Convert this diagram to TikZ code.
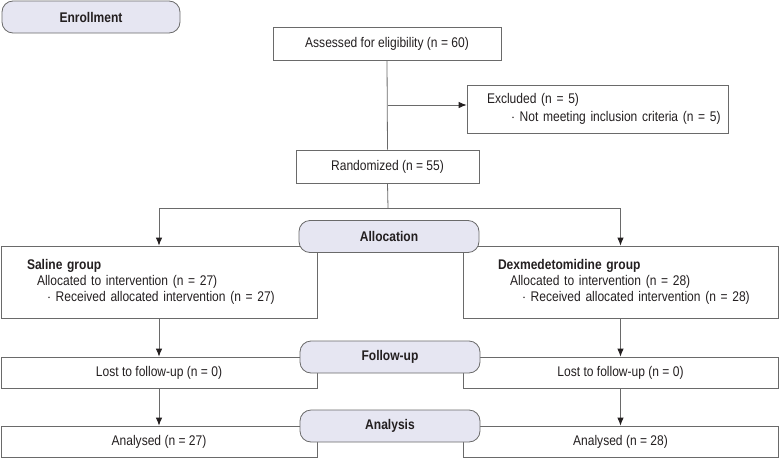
\documentclass[tikz,border=0pt]{standalone}
\usepackage{fontspec}
\setmainfont{Liberation Sans}[FakeStretch=0.86]
\usetikzlibrary{positioning}
\usetikzlibrary{arrows.meta}

\definecolor{stagefill}{HTML}{E6E6F2}
\definecolor{linegray}{HTML}{6A6A6A}
\definecolor{inkdark}{HTML}{231F20}

\tikzset{
  box/.style={draw=linegray, line width=0.8pt, minimum height=33pt, inner sep=0pt, text=inkdark, font=\fontsize{14}{16}\selectfont},
  listbox/.style={box, align=left, inner xsep=5pt},
  stage/.style={draw=linegray, line width=0.8pt, fill=stagefill, rounded corners=11pt, minimum width=180pt, minimum height=32pt, text=inkdark, font=\fontsize{14}{16}\selectfont\bfseries},
  link/.style={draw=linegray, line width=0.8pt},
  arr/.style={link, -{Latex[length=8pt,width=6.5pt,color=inkdark]}}
}

\begin{document}
\begin{tikzpicture}[x=1pt, y=-1pt]
				\useasboundingbox (0,0) rectangle (779,458);
				
				\node[stage, minimum width=178pt] (enroll) at (91,17) {Enrollment};
				\node[box, minimum width=228pt] (assess) at (387,43.5) {Assessed for eligibility (n = 60)};
				\node[listbox, minimum width=261pt, minimum height=48pt, text width=251pt, font=\fontsize{14}{18}\selectfont] (excl) at (597.5,109) {\hspace*{15pt}Excluded (n = 5)\\\hspace*{39pt}$\cdot$ Not meeting inclusion criteria (n = 5)};
				\node[box, minimum width=183pt] (rand) at (387.5,166.5) {Randomized (n = 55)};
				
				\node[listbox, minimum width=316pt, minimum height=72pt, text width=306pt] (saline) at (159,282) {\hspace*{21pt}\textbf{Saline group}\\\hspace*{31pt}Allocated to intervention (n = 27)\\\hspace*{41pt}$\cdot$ Received allocated intervention (n = 27)};
				\node[listbox, minimum width=315pt, minimum height=72pt, text width=305pt] (dexmed) at (620.5,282) {\hspace*{30pt}\textbf{Dexmedetomidine group}\\\hspace*{42pt}Allocated to intervention (n = 28)\\\hspace*{54pt}$\cdot$ Received allocated intervention (n = 28)};
				
				\node[box, minimum width=316pt, minimum height=31pt] (lostA) at (159,372.5) {Lost to follow-up (n = 0)};
				\node[box, minimum width=315pt, minimum height=31pt] (lostB) at (620.5,372.5) {Lost to follow-up (n = 0)};
				\node[box, minimum width=316pt, minimum height=31pt] (anA) at (159,441.5) {Analysed (n = 27)};
				\node[box, minimum width=315pt, minimum height=31pt] (anB) at (620.5,441.5) {Analysed (n = 28)};
				
				\coordinate (exclsplit) at (388,105);
				\coordinate (split) at (388,208);
				
				\draw[link] (assess.south) -- (rand.north);
				\draw[arr] (exclsplit) -- (excl.west |- exclsplit);
				\draw[link] (rand.south) -- (split);
				\draw[arr] (split) -| (saline.north);
				\draw[arr] (split) -| (dexmed.north);
				\draw[arr] (saline.south) -- (lostA.north);
				\draw[arr] (dexmed.south) -- (lostB.north);
				\draw[arr] (lostA.south) -- (anA.north);
				\draw[arr] (lostB.south) -- (anB.north);
				
				\node[stage] (alloc) at (389,236.5) {Allocation};
				\node[stage] (follow) at (390,357) {Follow-up};
				\node[stage] (analysis) at (390,426) {Analysis};
			\end{tikzpicture}
\end{document}
